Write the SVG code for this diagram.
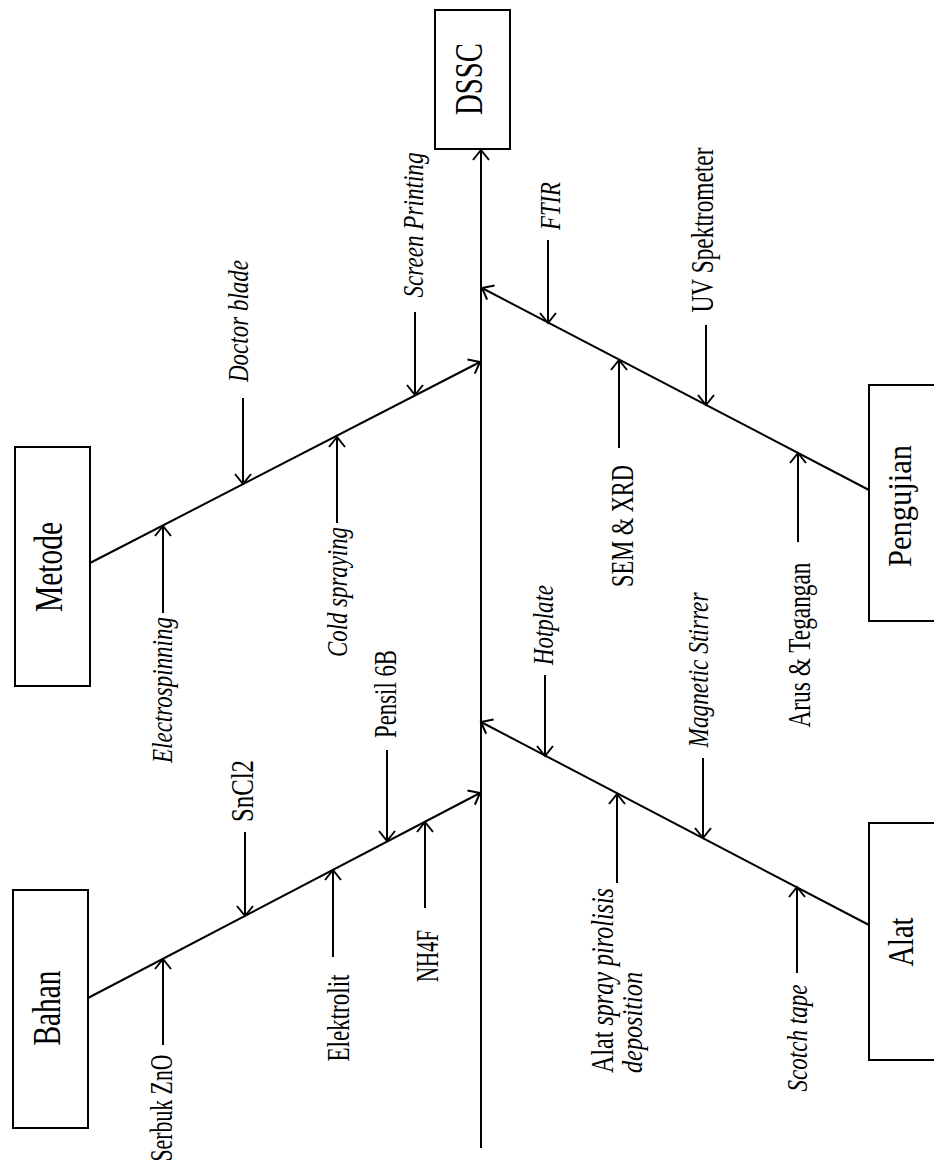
<svg xmlns="http://www.w3.org/2000/svg" width="934" height="1171" viewBox="0 0 934 1171">
<style>
.box{fill:#fff;stroke:#000;stroke-width:2}
.ln{stroke:#000;stroke-width:2;fill:none}
.arr{stroke:#000;stroke-width:2;fill:none;marker-end:url(#ah)}
text{font-family:"Liberation Serif","Times New Roman",serif;fill:#000}
.big{font-size:39px}
.lab{font-size:31px}
.it{font-size:30px;font-style:italic}
</style>
<defs>
<marker id="ah" markerUnits="userSpaceOnUse" markerWidth="20" markerHeight="20" viewBox="0 0 20 20" refX="12" refY="10" orient="auto">
<path d="M2,2 L12,10 L2,18" fill="none" stroke="#000" stroke-width="2"/>
</marker>
</defs>
<rect width="934" height="1171" fill="#fff"/>

<g id="connectors">
<line class="arr" x1="481" y1="1148" x2="481" y2="150"/>
<line class="arr" x1="90" y1="563" x2="480" y2="362"/>
<line class="arr" x1="88" y1="998" x2="480" y2="793"/>
<line class="arr" x1="869" y1="490" x2="482" y2="288"/>
<line class="arr" x1="869" y1="925" x2="481" y2="722"/>
<line class="arr" x1="243" y1="398" x2="243" y2="484"/>
<line class="arr" x1="415" y1="312" x2="415" y2="395"/>
<line class="arr" x1="163" y1="613" x2="163" y2="526"/>
<line class="arr" x1="337" y1="523" x2="337" y2="437"/>
<line class="arr" x1="245" y1="832" x2="245" y2="916"/>
<line class="arr" x1="387" y1="750" x2="387" y2="841"/>
<line class="arr" x1="163" y1="1045" x2="163" y2="959"/>
<line class="arr" x1="333" y1="957" x2="333" y2="870"/>
<line class="arr" x1="425" y1="908" x2="425" y2="822"/>
<line class="arr" x1="548" y1="240" x2="548" y2="323"/>
<line class="arr" x1="706" y1="325" x2="706" y2="405"/>
<line class="arr" x1="619" y1="448" x2="619" y2="360"/>
<line class="arr" x1="798" y1="542" x2="798" y2="453"/>
<line class="arr" x1="545" y1="675" x2="545" y2="756"/>
<line class="arr" x1="703" y1="758" x2="703" y2="838"/>
<line class="arr" x1="617" y1="883" x2="617" y2="794"/>
<line class="arr" x1="797" y1="973" x2="797" y2="887"/>
</g>

<g id="node-dssc">
<rect class="box" x="435" y="10" width="75" height="139"/>
<text class="big" transform="translate(482,79) rotate(-90)" text-anchor="middle" textLength="72" lengthAdjust="spacingAndGlyphs">DSSC</text>
</g>
<g id="node-metode">
<rect class="box" x="15" y="447" width="75" height="239"/>
<text class="big" transform="translate(62,567) rotate(-90)" text-anchor="middle" textLength="90" lengthAdjust="spacingAndGlyphs">Metode</text>
</g>
<g id="node-bahan">
<rect class="box" x="13" y="890" width="75" height="238"/>
<text class="big" transform="translate(60,1008) rotate(-90)" text-anchor="middle" textLength="75" lengthAdjust="spacingAndGlyphs">Bahan</text>
</g>
<g id="node-pengujian">
<rect class="box" x="869" y="385" width="80" height="236"/>
<text class="big" style="font-size:34px" transform="translate(911,506) rotate(-90)" text-anchor="middle" textLength="122" lengthAdjust="spacingAndGlyphs">Pengujian</text>
</g>
<g id="node-alat">
<rect class="box" x="869" y="823" width="80" height="237"/>
<text class="big" style="font-size:35px" transform="translate(913,942) rotate(-90)" text-anchor="middle" textLength="49" lengthAdjust="spacingAndGlyphs">Alat</text>
</g>

<g id="labels-metode">
<text class="it" transform="translate(248,321) rotate(-90)" text-anchor="middle" textLength="122" lengthAdjust="spacingAndGlyphs">Doctor blade</text>
<text class="it" transform="translate(423,225) rotate(-90)" text-anchor="middle" textLength="145" lengthAdjust="spacingAndGlyphs">Screen Printing</text>
<text class="it" transform="translate(172,690) rotate(-90)" text-anchor="middle" textLength="146" lengthAdjust="spacingAndGlyphs">Electrospinning</text>
<text class="it" transform="translate(347,592) rotate(-90)" text-anchor="middle" textLength="130" lengthAdjust="spacingAndGlyphs">Cold spraying</text>
</g>
<g id="labels-bahan">
<text class="lab" transform="translate(253,791) rotate(-90)" text-anchor="middle" textLength="62" lengthAdjust="spacingAndGlyphs">SnCl2</text>
<text class="lab" transform="translate(396,694) rotate(-90)" text-anchor="middle" textLength="88" lengthAdjust="spacingAndGlyphs">Pensil 6B</text>
<text class="lab" transform="translate(172,1108) rotate(-90)" text-anchor="middle" textLength="107" lengthAdjust="spacingAndGlyphs">Serbuk ZnO</text>
<text class="lab" transform="translate(349,1018) rotate(-90)" text-anchor="middle" textLength="87" lengthAdjust="spacingAndGlyphs">Elektrolit</text>
<text class="lab" transform="translate(438,956) rotate(-90)" text-anchor="middle" textLength="52" lengthAdjust="spacingAndGlyphs">NH4F</text>
</g>
<g id="labels-pengujian">
<text class="it" transform="translate(560,206) rotate(-90)" text-anchor="middle" textLength="48" lengthAdjust="spacingAndGlyphs">FTIR</text>
<text class="lab" transform="translate(713,230) rotate(-90)" text-anchor="middle" textLength="165" lengthAdjust="spacingAndGlyphs">UV Spektrometer</text>
<text class="lab" transform="translate(633,526) rotate(-90)" text-anchor="middle" textLength="122" lengthAdjust="spacingAndGlyphs">SEM &amp; XRD</text>
<text class="lab" transform="translate(810,645) rotate(-90)" text-anchor="middle" textLength="165" lengthAdjust="spacingAndGlyphs">Arus &amp; Tegangan</text>
</g>
<g id="labels-alat">
<text class="it" transform="translate(553,625) rotate(-90)" text-anchor="middle" textLength="80" lengthAdjust="spacingAndGlyphs">Hotplate</text>
<text class="it" transform="translate(708,670) rotate(-90)" text-anchor="middle" textLength="155" lengthAdjust="spacingAndGlyphs">Magnetic Stirrer</text>
<text class="lab" transform="translate(613,1073) rotate(-90)" textLength="185" lengthAdjust="spacingAndGlyphs">Alat <tspan font-style="italic">spray pirolisis</tspan></text>
<text class="it" transform="translate(642,1073) rotate(-90)" textLength="101" lengthAdjust="spacingAndGlyphs">deposition</text>
<text class="it" transform="translate(807,1038) rotate(-90)" text-anchor="middle" textLength="107" lengthAdjust="spacingAndGlyphs">Scotch tape</text>
</g>
</svg>
